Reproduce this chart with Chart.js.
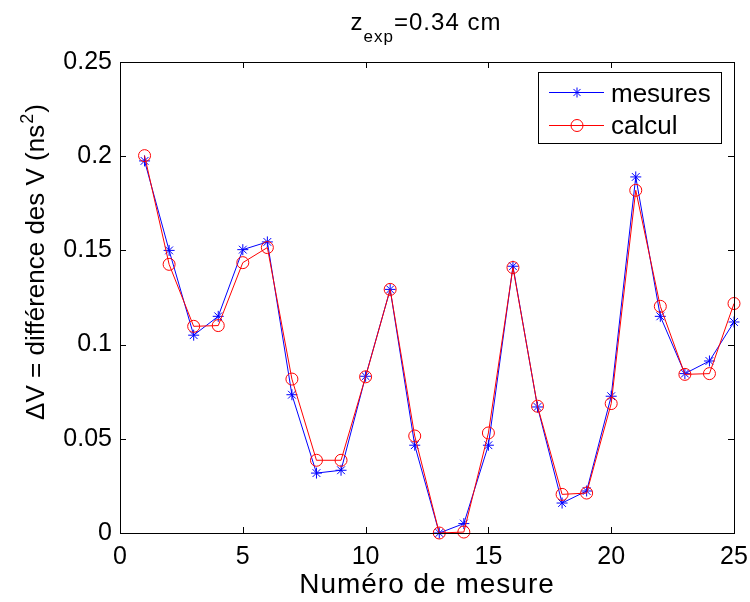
<!DOCTYPE html>
<html>
<head>
<meta charset="utf-8">
<script src="https://cdn.jsdelivr.net/npm/chart.js@4/dist/chart.umd.min.js"></script>
<style>
  html, body { margin: 0; padding: 0; background: #fff; }
  #wrap { width: 750px; height: 602px; }
</style>
</head>
<body>
<div id="wrap"><canvas id="c" width="750" height="602"></canvas></div>
<script>
// ---- data ----
const mesureNumbers = [1,2,3,4,5,6,7,8,9,10,11,12,13,14,15,16,17,18,19,20,21,22,23,24,25];
const mesures = [0.1975,0.150,0.105,0.115,0.1504,0.1545,0.0734,0.0318,0.0333,0.0832,0.1293,0.0466,0.0,0.0050,0.0466,0.1416,0.0669,0.0159,0.0223,0.0726,0.189,0.115,0.0846,0.0913,0.112];
const calcul  = [0.2003,0.1426,0.1097,0.1101,0.1435,0.1515,0.0817,0.0386,0.0386,0.0829,0.1293,0.0515,0.0,0.0005,0.0531,0.1409,0.0673,0.0205,0.0212,0.0687,0.1819,0.1203,0.0842,0.0846,0.1218];
const xTicks = [0,5,10,15,20,25];
const yTicks = [0,0.05,0.1,0.15,0.2,0.25];
const seriesNames = ['mesures','calcul'];
const titleMain = 'z', titleSub = 'exp', titleRest = '=0.34 cm';
const xTitle = 'Numéro de mesure';
const yTitleMain = 'ΔV = différence des V (ns', yTitleSup = '2', yTitleEnd = ')';

const FONT = '"Liberation Sans", Arial, Helvetica, sans-serif';

const toXY = (arr) => arr.map((v, i) => ({ x: mesureNumbers[i], y: v }));

const decorPlugin = {
  id: 'decor',
  afterDraw(chart) {
    const ctx = chart.ctx;
    const a = chart.chartArea;
    const sx = chart.scales.x, sy = chart.scales.y;
    ctx.save();
    // box
    ctx.strokeStyle = '#000';
    ctx.lineWidth = 1;
    ctx.strokeRect(Math.round(a.left) + 0.5, Math.round(a.top) + 0.5,
                   Math.round(a.right - a.left), Math.round(a.bottom - a.top));
    // inward ticks
    const tl = 6;
    ctx.beginPath();
    xTicks.forEach(v => {
      const px = Math.round(sx.getPixelForValue(v)) + 0.5;
      ctx.moveTo(px, a.bottom); ctx.lineTo(px, a.bottom - tl);
      ctx.moveTo(px, a.top); ctx.lineTo(px, a.top + tl);
    });
    yTicks.forEach(v => {
      const py = Math.round(sy.getPixelForValue(v)) + 0.5;
      ctx.moveTo(a.left, py); ctx.lineTo(a.left + tl, py);
      ctx.moveTo(a.right, py); ctx.lineTo(a.right - tl, py);
    });
    ctx.stroke();

    ctx.fillStyle = '#000';
    // title with subscript
    ctx.letterSpacing = '1px';
    ctx.textBaseline = 'alphabetic';
    ctx.textAlign = 'left';
    const fBig = '24px ' + FONT, fSmall = '17px ' + FONT;
    ctx.font = fBig; const w1 = ctx.measureText(titleMain).width;
    ctx.font = fSmall; const w2 = ctx.measureText(titleSub).width;
    ctx.font = fBig; const w3 = ctx.measureText(titleRest).width;
    let tx = 426 - (w1 + w2 + w3) / 2;
    const ty = 30;
    ctx.font = fBig; ctx.fillText(titleMain, tx, ty); tx += w1;
    ctx.font = fSmall; ctx.fillText(titleSub, tx, ty + 12); tx += w2;
    ctx.font = fBig; ctx.fillText(titleRest, tx, ty);

    // x title
    ctx.font = '28px ' + FONT;
    ctx.letterSpacing = '1px';
    ctx.textAlign = 'center';
    ctx.fillText(xTitle, (a.left + a.right) / 2, 593);

    // y title (rotated)
    ctx.letterSpacing = '0px';
    ctx.save();
    ctx.translate(44, 263);
    ctx.rotate(-Math.PI / 2);
    ctx.textAlign = 'left';
    const fy = '26px ' + FONT, fys = '18px ' + FONT;
    ctx.font = fy; const m1 = ctx.measureText(yTitleMain).width;
    ctx.font = fys; const m2 = ctx.measureText(yTitleSup).width;
    ctx.font = fy; const m3 = ctx.measureText(yTitleEnd).width;
    let yx = -(m1 + m2 + m3) / 2;
    ctx.font = fy; ctx.fillText(yTitleMain, yx, 0); yx += m1;
    ctx.font = fys; ctx.fillText(yTitleSup, yx + 1, -11); yx += m2 + 2;
    ctx.font = fy; ctx.fillText(yTitleEnd, yx, 0);
    ctx.restore();

    // legend
    const lx = 538, ly = 72, lw = 183, lh = 71;
    ctx.fillStyle = '#fff';
    ctx.fillRect(lx, ly, lw, lh);
    ctx.strokeStyle = '#000';
    ctx.lineWidth = 1;
    ctx.strokeRect(lx + 0.5, ly + 0.5, lw, lh);
    const entries = [
      { name: seriesNames[0], color: '#0000ff', style: 'star', cy: 92, base: 102 },
      { name: seriesNames[1], color: '#ff0000', style: 'circle', cy: 124.5, base: 134 }
    ];
    entries.forEach(e => {
      ctx.strokeStyle = e.color;
      ctx.lineWidth = 1;
      ctx.beginPath();
      ctx.moveTo(549, Math.round(e.cy) + 0.5);
      ctx.lineTo(604, Math.round(e.cy) + 0.5);
      ctx.stroke();
      const cx = 577, cy = Math.round(e.cy) + 0.5;
      ctx.beginPath();
      if (e.style === 'star') {
        const r = 5;
        ctx.moveTo(cx, cy - r); ctx.lineTo(cx, cy + r);
        ctx.moveTo(cx - r, cy); ctx.lineTo(cx + r, cy);
        const d = r * Math.SQRT1_2;
        ctx.moveTo(cx - d, cy - d); ctx.lineTo(cx + d, cy + d);
        ctx.moveTo(cx - d, cy + d); ctx.lineTo(cx + d, cy - d);
      } else {
        ctx.arc(cx, cy, 6, 0, Math.PI * 2);
      }
      ctx.stroke();
      ctx.fillStyle = '#000';
      ctx.font = '26px ' + FONT;
      ctx.textAlign = 'left';
      ctx.fillText(e.name, 611, e.base);
    });
    ctx.restore();
  }
};

new Chart(document.getElementById('c'), {
  type: 'line',
  data: {
    datasets: [
      {
        label: seriesNames[0],
        data: toXY(mesures),
        borderColor: '#0000ff',
        backgroundColor: '#0000ff',
        borderWidth: 1,
        pointStyle: 'star',
        pointRadius: 5.5,
        pointBorderWidth: 1,
        pointBorderColor: '#0000ff',
        tension: 0,
        clip: false,
        order: 1
      },
      {
        label: seriesNames[1],
        data: toXY(calcul),
        borderColor: '#ff0000',
        backgroundColor: 'rgba(0,0,0,0)',
        borderWidth: 1,
        pointStyle: 'circle',
        pointRadius: 6,
        pointBorderWidth: 1,
        pointBorderColor: '#ff0000',
        pointBackgroundColor: 'rgba(0,0,0,0)',
        tension: 0,
        clip: false,
        order: 0
      }
    ]
  },
  options: {
    responsive: false,
    animation: false,
    devicePixelRatio: 1,
    layout: { padding: { left: 0, top: 62, right: 16, bottom: 0 } },
    plugins: { legend: { display: false }, tooltip: { enabled: false }, title: { display: false } },
    scales: {
      x: {
        type: 'linear',
        min: 0, max: 25,
        afterBuildTicks: (s) => { s.ticks = xTicks.map(v => ({ value: v })); },
        afterFit: (s) => { s.height = 69; s.paddingLeft = 0; s.paddingRight = 0; },
        grid: { display: false, drawTicks: false },
        border: { display: false },
        ticks: {
          color: '#000',
          padding: 9,
          font: { family: FONT, size: 25 },
          maxRotation: 0,
          callback: (v) => String(v)
        }
      },
      y: {
        type: 'linear',
        min: 0, max: 0.25,
        afterBuildTicks: (s) => { s.ticks = yTicks.map(v => ({ value: v })); },
        afterFit: (s) => { s.width = 120; s.paddingTop = 0; s.paddingBottom = 0; },
        grid: { display: false, drawTicks: false },
        border: { display: false },
        ticks: {
          color: '#000',
          padding: 8,
          font: { family: FONT, size: 25 },
          callback: (v) => String(+Number(v).toFixed(2))
        }
      }
    }
  },
  plugins: [decorPlugin]
});
</script>
</body>
</html>
